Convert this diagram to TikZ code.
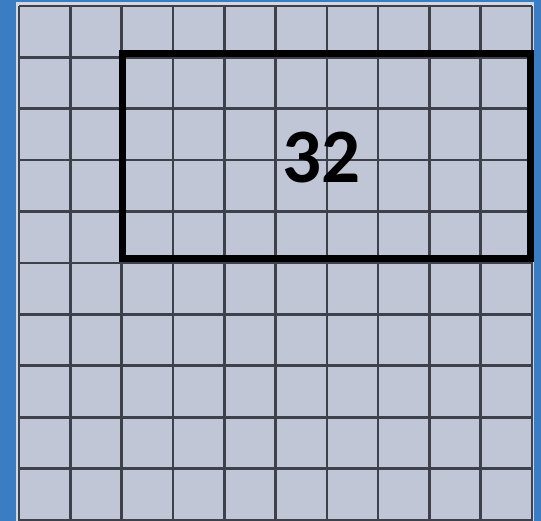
\documentclass[tikz,border=0pt]{standalone}
\usepackage{fontspec}
\setmainfont{Carlito}
\usepackage{xcolor}
\usetikzlibrary{positioning}
\definecolor{backblue}{HTML}{3A7DC2}
\definecolor{edgegray}{HTML}{D3D7E0}
\definecolor{cellfill}{HTML}{C0C6D6}
\definecolor{gridline}{HTML}{3E414C}

\begin{document}
\begin{tikzpicture}[
  x=1pt, y=-1pt,
  cellgrid/.style={draw=gridline, line width=2.6pt},
  selbox/.style={draw=black, line width=7pt},
  count/.style={font=\bfseries\fontsize{77}{80}\selectfont, inner sep=0pt}
]
  \useasboundingbox (0,0) rectangle (541,521);
  \fill[backblue] (0,0) rectangle (541,521);
  \fill[edgegray] (16,2) rectangle (534,521);
  \fill[cellfill] (19,6) rectangle (532,521);

  % grid of 10 x 10 cells
  \foreach \i in {0,...,10} {
    \draw[cellgrid] ({19+51.3*\i},6) -- ({19+51.3*\i},521);
    \draw[cellgrid] (19,{6+51.4*\i}) -- (532,{6+51.4*\i});
  }

  \draw[selbox] (122,54) rectangle (530,259);
  \node[count] (total) at (321.5,157.5) {32};
\end{tikzpicture}
\end{document}
